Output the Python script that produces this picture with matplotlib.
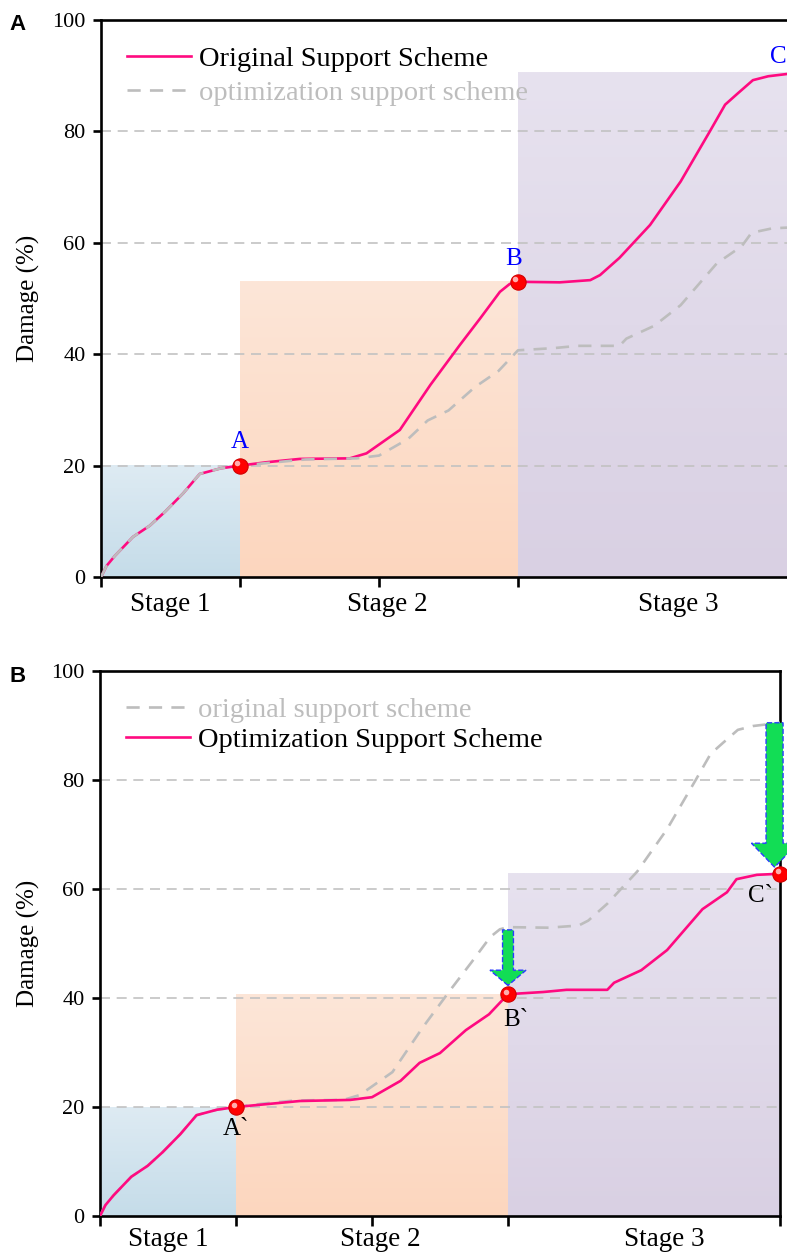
import numpy as np
import matplotlib
matplotlib.use('Agg')
import matplotlib.pyplot as plt
from matplotlib.colors import LinearSegmentedColormap
from matplotlib.patches import FancyArrow
from matplotlib.transforms import offset_copy

plt.rcParams['font.family'] = ['Liberation Serif', 'DejaVu Serif']

# curvas de daño (x = avance de la excavación, y = daño %)
orig_x = [0, 0.04, 0.1, 0.23, 0.35, 0.46, 0.59, 0.71, 0.86, 1.0, 1.19, 1.43, 1.79, 1.91,
          2.15, 2.37, 2.58, 2.73, 2.87, 2.94, 3.0, 3.3, 3.52, 3.59, 3.73, 3.95, 4.17,
          4.38, 4.49, 4.58, 4.69, 4.8, 5.0]
orig_y = [0, 2.0, 3.8, 7.2, 9.2, 11.7, 15.0, 18.5, 19.5, 20.0, 20.6, 21.2, 21.3, 22.2,
          26.4, 34.5, 41.6, 46.5, 51.2, 52.6, 53.0, 52.9, 53.3, 54.2, 57.3, 63.2, 71.0,
          80.0, 84.8, 86.8, 89.2, 89.9, 90.5]

opt_x = [0, 0.04, 0.1, 0.23, 0.35, 0.46, 0.59, 0.71, 0.86, 1.0, 1.47, 1.84, 2.0,
         2.21, 2.35, 2.5, 2.69, 2.86, 3.0, 3.26, 3.43, 3.73, 3.78, 3.98, 4.17,
         4.43, 4.61, 4.68, 4.83, 5.0]
opt_y = [0, 2.0, 3.8, 7.2, 9.2, 11.7, 15.0, 18.5, 19.5, 20.0, 21.1, 21.3, 21.8,
         24.8, 28.1, 29.9, 34.1, 37.0, 40.7, 41.1, 41.5, 41.5, 42.8, 45.1, 48.8,
         56.3, 59.4, 61.8, 62.6, 62.8]

stage_edges = [0, 1, 3, 5]
stage_names = ['Stage 1', 'Stage 2', 'Stage 3']
stage_label_x = [0.5, 2.06, 4.15]
orig_pts = [20.0, 53.0, 90.5]
opt_pts = [20.0, 40.7, 62.8]

pink = '#FF0A80'
grey = '#BDBDBD'
stage_cols = [('#DEEBF3', '#C5DCE9'), ('#FDE6D8', '#FCD6BE'), ('#E7E2EF', '#D9D0E3')]


def gradient_box(ax, x0, x1, top, c_top, c_bot):
    cmap = LinearSegmentedColormap.from_list('g', [c_bot, c_top])
    g = np.linspace(0, 1, 256).reshape(-1, 1)
    ax.imshow(g, extent=[x0, x1, 0, top], origin='lower', cmap=cmap,
              aspect='auto', zorder=0, interpolation='bilinear')


def sphere(ax, x, y):
    ax.plot([x], [y], 'o', ms=11, color='#FF0000', mec='#D00000', mew=0.8,
            zorder=5, clip_on=False)
    tr = offset_copy(ax.transData, fig=ax.figure, x=-1.8, y=1.8, units='points')
    ax.plot([x], [y], 'o', ms=4, color='#FFD8D8', alpha=0.8, mew=0,
            transform=tr, zorder=6, clip_on=False)


def base_axes(ax, label_off):
    for s in ax.spines.values():
        s.set_linewidth(1.9)
    ax.set_ylim(0, 100)
    ax.set_xlim(0, 5)
    ax.set_yticks([0, 20, 40, 60, 80, 100])
    ax.tick_params(axis='y', direction='out', length=6, width=1.9, labelsize=16, pad=5)
    ax.tick_params(axis='x', direction='out', length=7, width=1.9, labelbottom=False)
    for v in [20, 40, 60, 80]:
        ax.axhline(v, color='#C2C2C2', lw=1.2, ls=(0, (6, 4)), zorder=1)
    ax.set_ylabel('Damage (%)', fontsize=18, va='center')
    ax.yaxis.set_label_coords(-0.105, 0.5)
    for name, xm in zip(stage_names, stage_label_x):
        ax.text(xm, label_off, name, transform=ax.get_xaxis_transform(),
                ha='center', va='center', fontsize=19.5)


fig = plt.figure(figsize=(7.87, 12.55), dpi=100)

# ---- panel A: esquema original
axA = fig.add_axes([101 / 787, 678 / 1255, 695 / 787, 557 / 1255])
for i in range(3):
    gradient_box(axA, stage_edges[i], stage_edges[i + 1], orig_pts[i], *stage_cols[i])
base_axes(axA, -0.05)
axA.set_xticks([0, 1, 2, 3, 5])
axA.plot(orig_x, orig_y, color=pink, lw=1.9, zorder=3, label='Original Support Scheme')
axA.plot(opt_x, opt_y, color=grey, lw=1.9, ls=(0, (5, 3.5)), zorder=4,
         label='optimization support scheme')
for i in range(3):
    sphere(axA, stage_edges[i + 1], orig_pts[i])
axA.text(1.0, orig_pts[0] + 2.2, 'A', color='#0000FF', fontsize=18, ha='center', va='bottom')
axA.text(2.97, orig_pts[1] + 2.2, 'B', color='#0000FF', fontsize=18, ha='center', va='bottom')
axA.text(4.87, orig_pts[2] + 0.9, 'C', color='#0000FF', fontsize=18, ha='center', va='bottom',
         clip_on=False)
legA = axA.legend(loc='upper left', bbox_to_anchor=(0.0, 1.0), frameon=False, fontsize=20.5,
                  handlelength=2.25, handletextpad=0.3, labelspacing=0.3, borderaxespad=0.5)
legA.get_texts()[1].set_color('#BDBDBD')
fig.text(18 / 787, 1 - 25 / 1255, 'A', fontsize=16, fontweight='bold',
         family='Liberation Sans', ha='center', va='center')

# ---- panel B: esquema optimizado
axB = fig.add_axes([100 / 787, 39 / 1255, 680 / 787, 545 / 1255])
for i in range(3):
    gradient_box(axB, stage_edges[i], stage_edges[i + 1], opt_pts[i], *stage_cols[i])
base_axes(axB, -0.044)
axB.set_xticks([0, 1, 2, 3, 5])
axB.plot(orig_x, orig_y, color=grey, lw=1.9, ls=(0, (5, 3.5)), zorder=3,
         label='original support scheme')
axB.plot(opt_x, opt_y, color=pink, lw=1.9, zorder=4, label='Optimization Support Scheme')
for i in range(3):
    sphere(axB, stage_edges[i + 1], opt_pts[i])
axB.text(1.0, opt_pts[0] - 2.0, 'A`', fontsize=18, ha='center', va='top')
axB.text(3.06, opt_pts[1] - 2.8, 'B`', fontsize=18, ha='center', va='top')
axB.text(4.86, opt_pts[2] - 2.0, 'C`', fontsize=18, ha='center', va='top')

# flechas de reducción del daño
for xa, y0, y1, w, hw, hl in [(3.0, 52.5, opt_pts[1] + 1.6, 0.08, 0.265, 2.8),
                              (4.96, orig_pts[2], opt_pts[2] + 1.2, 0.125, 0.34, 4.4)]:
    arr = FancyArrow(xa, y0, 0, y1 - y0, width=w, head_width=hw, head_length=hl,
                     length_includes_head=True, facecolor='#12DD55', edgecolor='#2A3CFF',
                     lw=1.0, ls='--', zorder=4.5, clip_on=False)
    axB.add_patch(arr)

legB = axB.legend(loc='upper left', bbox_to_anchor=(0.0, 1.0), frameon=False, fontsize=20.5,
                  handlelength=2.25, handletextpad=0.3, labelspacing=0.15, borderaxespad=0.5)
legB.get_texts()[0].set_color('#BDBDBD')
fig.text(18 / 787, 1 - 676 / 1255, 'B', fontsize=16, fontweight='bold',
         family='Liberation Sans', ha='center', va='center')

fig.savefig('out.png', dpi=100)
